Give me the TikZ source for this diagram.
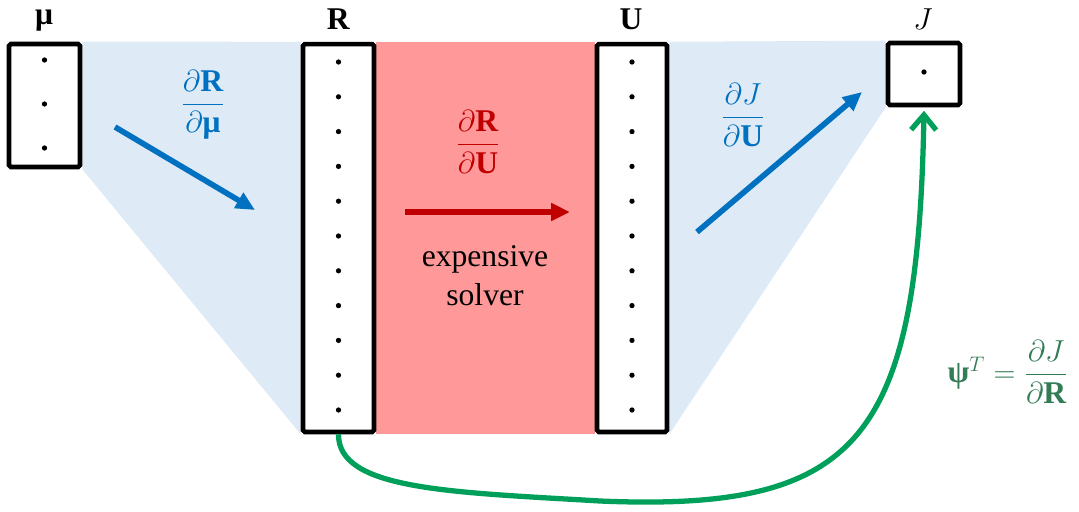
\documentclass[tikz,border=0pt]{standalone}
\usepackage{amsmath,amssymb}
\usepackage{fontspec}
\setmainfont{Liberation Serif}
\usetikzlibrary{arrows.meta,backgrounds}

\definecolor{gradblue}{RGB}{0,112,192}
\definecolor{paleblue}{RGB}{222,234,246}
\definecolor{solverred}{RGB}{255,153,153}
\definecolor{darkred}{RGB}{192,0,0}
\definecolor{adjgreen}{RGB}{0,160,90}
\definecolor{adjtext}{RGB}{50,125,85}

\begin{document}
\begin{tikzpicture}[
	x=0.02cm, y=-0.02cm,
	font=\fontsize{18}{22}\selectfont,
	vecbox/.style={
		rectangle, rounded corners=1pt,
		draw=black, line width=2.6pt, fill=white,
		minimum width=1.42cm, inner sep=0pt
	},
	vdot/.style={black},
	grad/.style={-{Triangle[length=0.38cm,width=0.34cm]}, line width=3.2pt},
	adj/.style={-{Straight Barb[length=0.3cm,width=0.5cm]}, line width=3pt, adjgreen},
	lbl/.style={inner sep=1pt}
]
\useasboundingbox (0,0) rectangle (1079,511);

% Vectors
\node[vecbox, minimum height=2.46cm] (mu) at (44.5,105.5) {};
\node[vecbox, minimum height=7.76cm] (R)  at (338.5,238) {};
\node[vecbox, minimum height=7.76cm, minimum width=1.40cm] (U) at (632,238) {};
\node[vecbox, minimum height=1.24cm, minimum width=1.44cm] (J) at (924,74) {};

% Shaded regions
\begin{scope}[on background layer]
	\fill[paleblue] (mu.north east) -- (R.north west) -- (R.south west) -- (mu.south east) -- cycle;
	\fill[paleblue] (U.north east) -- (J.north west) -- (J.south west) -- (U.south east) -- cycle;
	\fill[solverred] (R.north east) rectangle (U.south west);
\end{scope}

% Entries
\foreach \i in {0,1,2}
	\fill[vdot] (44.5, 60+\i*44) circle (1.5pt);
\foreach \i in {0,...,10}{
	\fill[vdot] (338.5, 62+\i*34.8) circle (1.5pt);
	\fill[vdot] (632, 62+\i*34.8) circle (1.5pt);
}
\fill[vdot] (924,72) circle (1.5pt);

% Vector names
\node[lbl] (mulbl) at (44,21) {\textbf{μ}};
\node[lbl] (Rlbl)  at (338.5,19) {\textbf{R}};
\node[lbl] (Ulbl)  at (631,19) {\textbf{U}};
\node[lbl] (Jlbl)  at (923,19) {$J$};

% Sensitivities
\coordinate (g1a) at (115,127);
\coordinate (g1b) at (255,210);
\draw[grad, gradblue] (g1a) -- (g1b);
\node[lbl, gradblue] (dRdmu) at (203,105)
	{$\dfrac{\partial\textbf{R}}{\partial\textbf{μ}}$};

\coordinate (g2a) at (405,212);
\coordinate (g2b) at (570,212);
\draw[grad, darkred] (g2a) -- (g2b);
\node[lbl, darkred] (dRdU) at (478,142)
	{$\dfrac{\partial\textbf{R}}{\partial\textbf{U}}$};
\node[lbl, align=center] (solver) at (485,276) {expensive\\solver};

\coordinate (g3a) at (697,232);
\coordinate (g3b) at (862,92);
\draw[grad, gradblue] (g3a) -- (g3b);
\node[lbl, gradblue] (dJdU) at (743,115)
	{$\dfrac{\partial J}{\partial\textbf{U}}$};

% Adjoint
\draw[adj] (R.south) .. controls (338,490) and (450,492) .. (600,501)
	.. controls (860,512) and (918,440) .. ([yshift=-2pt]J.south);
\node[lbl, adjtext] (adjlbl) at (1008,372)
	{$\textbf{ψ}^{T} = \dfrac{\partial J}{\partial\textbf{R}}$};

\end{tikzpicture}
\end{document}
